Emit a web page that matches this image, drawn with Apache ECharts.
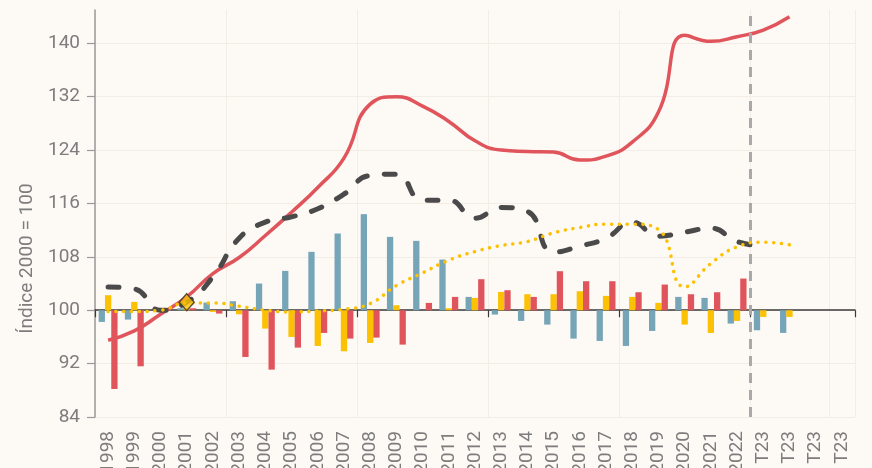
<!DOCTYPE html>
<html><head><meta charset="utf-8">
<script src="https://cdn.jsdelivr.net/npm/echarts@6/dist/echarts.min.js"></script>
<style>html,body{margin:0;padding:0;background:#FDF9F5}#c{width:872px;height:468px}</style>
</head><body><div id="c"></div>
<script>
const categories = ['1998','1999','2000','2001','2002','2003','2004','2005','2006','2007','2008','2009','2010','2011','2012','2013','2014','2015','2016','2017','2018','2019','2020','2021','2022','T23','T23','T23','T23'];
const yTicks = [84, 92, 100, 108, 116, 124, 132, 140];

// index lines (2000 = 100)
const redLine = [95.5, 96.9, 99.4, 102.0, 105.5, 107.9, 111.2, 114.7, 118.4, 122.8, 130.9, 132.0, 130.6, 128.3, 125.4, 124.0, 123.8, 123.7, 122.5, 123.1, 125.2, 129.7, 141.2, 140.3, 141.0, 142.0, 144.0, null, null];
const darkLine = [103.5, 103.2, 100.0, 101.2, 105.0, 110.8, 113.2, 114.0, 115.2, 117.4, 120.2, 120.4, 116.5, 116.5, 113.8, 115.4, 114.8, 108.7, 109.6, 110.8, 113.2, 111.1, 111.7, 112.3, 110.3, 109.6, null, null, null];
const yellowLine = [99.8, 99.8, 100.0, 101.1, 101.1, 100.6, 100.0, 99.75, 99.9, 100.15, 101.0, 103.7, 105.6, 107.5, 108.8, 109.7, 110.3, 111.6, 112.4, 112.9, 112.9, 112.1, 103.5, 107.0, 109.5, 110.2, 109.8, null, null];

// bars: deviation from the 100 base
const blueBars = [-1.75, -1.4, 0, 0.3, 1.15, 1.35, 4.0, 5.9, 8.75, 11.5, 14.4, 11.0, 10.4, 7.6, 2.0, -0.65, -1.6, -2.15, -4.25, -4.6, -5.35, -3.1, 2.0, 1.85, -2.0, -3.0, -3.4, null, null];
const yellowBars = [2.25, 1.25, 0, 0.3, -0.25, -0.6, -2.75, -4.0, -5.35, -6.15, -4.9, 0.75, 0, 0.3, 1.85, 2.75, 2.4, 2.4, 2.85, 2.15, 2.0, 1.1, -2.15, -3.4, -1.6, -1.0, -1.0, null, null];
const redBars = [-11.8, -8.4, 0, 0.3, -0.5, -7.0, -8.9, -5.6, -3.4, -4.25, -4.1, -5.15, 1.1, 2.0, 4.65, 3.0, 2.0, 5.85, 4.35, 4.35, 2.7, 3.85, 2.4, 2.7, 4.75, null, null, null, null];

const markerYear = '2001';
const markerValue = 101.2;
const forecastBoundary = 24.5; // between 2022 and the first T23

const yMin = 84, yMax = 145, base = 100;
const FONT = 'Roboto';
const GREY = '#7d7d7d';

const chart = echarts.init(document.getElementById('c'), null, {renderer: 'canvas'});
chart.setOption({
  animation: false,
  backgroundColor: '#FDF9F5',
  grid: {left: 95, right: 17, top: 10, bottom: 51, containLabel: false, outerBoundsMode: 'none'},
  xAxis: [
    {type: 'category', data: categories, position: 'bottom',
     axisLine: {show: false, onZero: false}, axisTick: {show: false},
     axisLabel: {rotate: 90, interval: 0, margin: 14, color: GREY, fontSize: 19, fontFamily: FONT},
     splitLine: {show: true, interval: 4, lineStyle: {color: '#F3EDE6', width: 1}}},
    {type: 'category', data: categories, position: 'bottom',
     axisLine: {show: true, onZero: true, onZeroAxisIndex: 1, lineStyle: {color: '#3a3a3a', width: 1.5}},
     axisTick: {show: true, interval: 4, length: 7, lineStyle: {color: '#3a3a3a', width: 1.2}},
     axisLabel: {show: false}, splitLine: {show: false}},
    {type: 'value', min: -0.5, max: categories.length - 0.5, show: false, axisLine: {onZero: false}}
  ],
  yAxis: [
    {type: 'value', min: yMin, max: yMax, interval: 8, position: 'left',
     name: 'Índice 2000 = 100', nameLocation: 'middle', nameGap: 58,
     nameTextStyle: {color: GREY, fontSize: 19, fontFamily: FONT, padding: [0, 90, 0, 0]},
     axisLine: {show: true, onZero: false, lineStyle: {color: '#9a9a9a', width: 1.5}},
     axisTick: {show: true, length: 8, customValues: yTicks, lineStyle: {color: '#9a9a9a', width: 1.2}},
     axisLabel: {customValues: yTicks, margin: 15, color: GREY, fontSize: 19, fontFamily: FONT},
     splitLine: {show: true, lineStyle: {color: '#F3EDE6', width: 1}}},
    {type: 'value', min: yMin - base, max: yMax - base, show: false, axisLine: {onZero: false}, splitLine: {show: false}}
  ],
  series: [
    {type: 'bar', name: 'azul', data: blueBars, xAxisIndex: 0, yAxisIndex: 1, barWidth: 6.3, barGap: '0%', itemStyle: {color: '#76A5B8'}, z: 2},
    {type: 'bar', name: 'amarillo', data: yellowBars, xAxisIndex: 0, yAxisIndex: 1, barWidth: 6.3, barGap: '0%', itemStyle: {color: '#FBC102'}, z: 2},
    {type: 'bar', name: 'rojo', data: redBars, xAxisIndex: 0, yAxisIndex: 1, barWidth: 6.3, barGap: '0%', itemStyle: {color: '#E0545B'}, z: 2},
    {type: 'line', data: redLine, xAxisIndex: 0, yAxisIndex: 0, smooth: 0.5, showSymbol: false,
     lineStyle: {color: '#E0545B', width: 3.5}, z: 4},
    {type: 'line', data: darkLine, xAxisIndex: 0, yAxisIndex: 0, smooth: 0.5, showSymbol: false,
     lineStyle: {color: '#4a4a4a', width: 5, type: [11, 17], cap: 'round'}, z: 5},
    {type: 'line', data: yellowLine, xAxisIndex: 0, yAxisIndex: 0, smooth: 0.5, showSymbol: false,
     lineStyle: {color: '#FBC102', width: 3.5, type: [0.1, 7.7], cap: 'round'}, z: 6},
    {type: 'line', data: [], xAxisIndex: 2, yAxisIndex: 0, showSymbol: false, z: 3,
     markLine: {silent: true, symbol: ['none', 'none'], label: {show: false},
       lineStyle: {color: '#A9A9A9', width: 3, type: [10, 7]},
       data: [{xAxis: forecastBoundary}]}},
    {type: 'scatter', data: [[categories.indexOf(markerYear), markerValue]], xAxisIndex: 0, yAxisIndex: 0,
     symbol: 'diamond', symbolSize: [15, 17], itemStyle: {color: '#FBC102', borderColor: '#333', borderWidth: 1.5}, z: 8}
  ]
});
</script></body></html>
